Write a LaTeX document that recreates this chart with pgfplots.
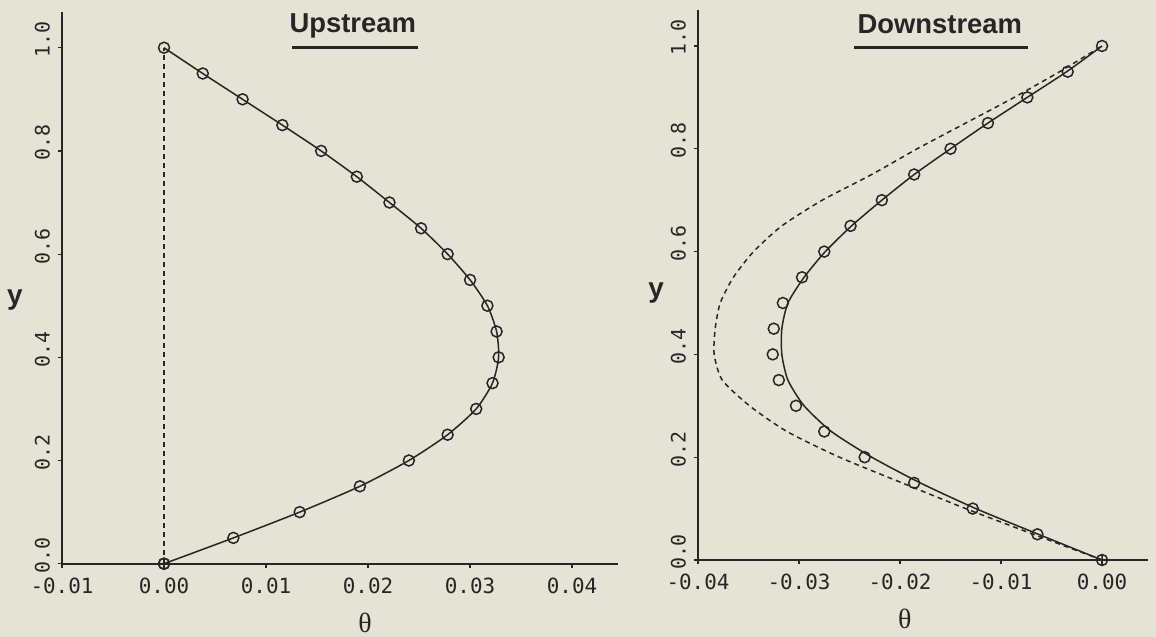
\documentclass[border=0pt]{standalone}
\usepackage{fontspec}
\setmainfont{Liberation Sans}
\newfontfamily\monofont{DejaVu Sans Mono}
\newfontfamily\greekfont{Liberation Serif}
\usepackage{pgfplots}
\pgfplotsset{compat=1.18}
\definecolor{bg}{HTML}{E5E3D5}
\definecolor{ink}{HTML}{262626}

% Upstream: theta vs y
\pgfplotstableread{
y theta
0.00 0.0000
0.05 0.0068
0.10 0.0133
0.15 0.0192
0.20 0.0240
0.25 0.0278
0.30 0.0306
0.35 0.0322
0.40 0.0328
0.45 0.0326
0.50 0.0317
0.55 0.0300
0.60 0.0278
0.65 0.0252
0.70 0.0221
0.75 0.0189
0.80 0.0154
0.85 0.0116
0.90 0.0077
0.95 0.0038
1.00 0.0000
}\upstream

% Downstream markers
\pgfplotstableread{
y theta
0.05 -0.0064
0.10 -0.0128
0.15 -0.0186
0.20 -0.0235
0.25 -0.0275
0.30 -0.0303
0.35 -0.0320
0.40 -0.0326
0.45 -0.0325
0.50 -0.0316
0.55 -0.0297
0.60 -0.0275
0.65 -0.0249
0.70 -0.0218
0.75 -0.0186
0.80 -0.0150
0.85 -0.0113
0.90 -0.0074
0.95 -0.0034
1.00 0.0000
}\downmarks

% Downstream solid curve
\pgfplotstableread{
y theta
0.00 0.0000
0.05 -0.0063
0.10 -0.0125
0.15 -0.0180
0.20 -0.0228
0.25 -0.0268
0.30 -0.0295
0.35 -0.0311
0.40 -0.0317
0.45 -0.0317
0.50 -0.0311
0.55 -0.0295
0.60 -0.0274
0.65 -0.0248
0.70 -0.0218
0.75 -0.0186
0.80 -0.0150
0.85 -0.0113
0.90 -0.0074
0.95 -0.0035
1.00 0.0000
}\downsolid

% Downstream dashed curve
\pgfplotstableread{
y theta
0.00 0.0000
0.05 -0.0068
0.10 -0.0135
0.15 -0.0198
0.20 -0.0260
0.25 -0.0312
0.30 -0.0349
0.35 -0.0376
0.40 -0.0384
0.45 -0.0383
0.50 -0.0378
0.55 -0.0365
0.60 -0.0345
0.65 -0.0317
0.70 -0.0277
0.75 -0.0228
0.80 -0.0183
0.85 -0.0135
0.90 -0.0087
0.95 -0.0042
1.00 0.0000
}\downdash

\pgfplotsset{
  myaxis/.style={
    scale only axis,
    axis lines*=left,
    axis line style={-, line width=1.8bp, ink},
    tick align=outside,
    major tick length=4bp,
    tick style={line width=1.2bp, ink},
    scaled x ticks=false,
    scaled y ticks=false,
    ymin=0, ymax=1.07,
    ytick={0,0.2,0.4,0.6,0.8,1.0},
    yticklabels={0.0,0.2,0.4,0.6,0.8,1.0},
    yticklabel style={font=\monofont\fontsize{20}{22}\selectfont, text=ink, rotate=90, anchor=south, inner sep=0pt, xshift=8bp},
    yticklabel shift=8bp,
    xticklabel style={font=\monofont\fontsize{21}{24}\selectfont, text=ink, anchor=north, inner sep=0pt},
    xticklabel shift=10bp,
    clip=false,
  },
  dataline/.style={ink, line width=1.5bp, smooth, tension=0.4},
  markers/.style={ink, only marks, mark=o, mark size=5.5bp, mark options={line width=1.5bp}},
}

\begin{document}
\begin{tikzpicture}
\path[use as bounding box, fill=bg] (0,0) rectangle (1156bp,637bp);

% ---------------- Upstream ----------------
\begin{axis}[myaxis,
  at={(62bp,73.3bp)}, anchor=south west,
  width=556bp, height=552.1bp,
  xmin=-0.01, xmax=0.0445,
  xtick={-0.01,0,0.01,0.02,0.03,0.04},
  xticklabels={-0.01,0.00,0.01,0.02,0.03,0.04},
]
\addplot[ink, line width=1.5bp, dash pattern=on 5bp off 4bp] coordinates {(0,0) (0,1)};
\addplot[dataline] table[x=theta, y=y] {\upstream};
\addplot[markers] table[x=theta, y=y] {\upstream};
\addplot[ink, only marks, mark=oplus, mark size=5.5bp, mark options={line width=1.5bp}] coordinates {(0,0)};
\node[font=\bfseries\fontsize{27.5}{30}\selectfont, text=ink, anchor=base] at (rel axis cs:0.523,0.963) {Upstream};
\draw[ink, line width=2.5bp] (rel axis cs:0.414,0.9346) -- (rel axis cs:0.640,0.9346);
\node[font=\greekfont\fontsize{28}{30}\selectfont, text=ink] at (rel axis cs:0.545,0) [yshift=-59bp] {θ};
\node[font=\bfseries\fontsize{28}{30}\selectfont, text=ink] at (rel axis cs:0,0.4776) [xshift=-47bp] {y};
\end{axis}

% ---------------- Downstream ----------------
\begin{axis}[myaxis,
  at={(698bp,77bp)}, anchor=south west,
  width=449.5bp, height=550bp,
  xmin=-0.04, xmax=0.0045,
  xtick={-0.04,-0.03,-0.02,-0.01,0},
  xticklabels={-0.04,-0.03,-0.02,-0.01,0.00},
]
\addplot[ink, line width=1.5bp, dash pattern=on 5bp off 4bp, smooth, tension=0.4] table[x=theta, y=y] {\downdash};
\addplot[dataline] table[x=theta, y=y] {\downsolid};
\addplot[markers] table[x=theta, y=y] {\downmarks};
\addplot[ink, only marks, mark=oplus, mark size=5.5bp, mark options={line width=1.5bp}] coordinates {(0,0)};
\node[font=\bfseries\fontsize{27.5}{30}\selectfont, text=ink, anchor=base] at (rel axis cs:0.538,0.958) {Downstream};
\draw[ink, line width=2.5bp] (rel axis cs:0.347,0.932) -- (rel axis cs:0.734,0.932);
\node[font=\greekfont\fontsize{28}{30}\selectfont, text=ink] at (rel axis cs:0.46,0) [yshift=-59bp] {θ};
\node[font=\bfseries\fontsize{28}{30}\selectfont, text=ink] at (rel axis cs:0,0.4855) [xshift=-42bp] {y};
\end{axis}
\end{tikzpicture}
\end{document}
